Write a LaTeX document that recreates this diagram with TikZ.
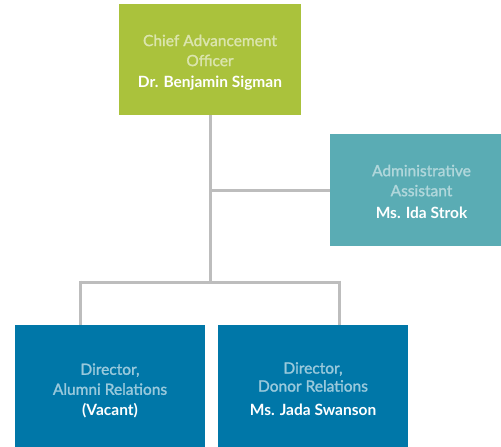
\documentclass[tikz,border=0pt]{standalone}
\usepackage{fontspec}
\setmainfont{Lato}
\newfontfamily\titlefont{Lato}[FakeBold=1.6]
\definecolor{cgreen}{RGB}{170,194,60}
\definecolor{cteal}{RGB}{90,172,180}
\definecolor{cblue}{RGB}{0,119,168}
\definecolor{cline}{RGB}{189,189,189}
\newcommand{\firststrut}{\rule{0pt}{17.5pt}}
\begin{document}
\begin{tikzpicture}[x=1pt,y=-1pt,
  box/.style={inner sep=0pt, outer sep=0pt, align=center, anchor=north west,
    font=\fontsize{15.5}{20}\selectfont, text=white},
  conn/.style={draw=cline, line width=3pt}]
\useasboundingbox (0,0) rectangle (501,447);
\clip (0,0) rectangle (501,447);
\node[box, fill=cgreen, minimum width=182pt, minimum height=111pt] (cao) at (119,4)
  {\titlefont\color{white!58!cgreen}\firststrut Chief Advancement\\\titlefont\color{white!58!cgreen}Officer\\[1.5pt]\bfseries Dr. Benjamin Sigman};
\node[box, fill=cteal, minimum width=183pt, minimum height=112pt] (aa) at (330,134)
  {\titlefont\color{white!52!cteal}\rule{0pt}{15pt}Administrative\\\titlefont\color{white!52!cteal}Assistant\\[2.5pt]\bfseries Ms. Ida Strok};
\node[box, fill=cblue, minimum width=190pt, minimum height=128pt] (dar) at (15,325)
  {\titlefont\color{white!60!cblue}\rule{0pt}{15pt}Director,\\\titlefont\color{white!60!cblue}Alumni Relations\\[1pt]\bfseries (Vacant)};
\node[box, fill=cblue, minimum width=190pt, minimum height=128pt] (ddr) at (218,325)
  {\titlefont\color{white!60!cblue}Director,\\[-2pt]\titlefont\color{white!60!cblue}Donor Relations\\[4pt]\bfseries Ms. Jada Swanson};
\coordinate (j) at (210,282);
\coordinate (jl) at (80.5,282);
\coordinate (jr) at (339,282);
\draw[conn] (cao.south) -- (j);
\draw[conn] (cao.south |- aa.west) -- (aa.west);
\draw[conn] (jl) -- (jr);
\draw[conn] ([yshift=1.5pt]jl) -- (jl |- dar.north);
\draw[conn] ([yshift=1.5pt]jr) -- (jr |- ddr.north);
\end{tikzpicture}
\end{document}
